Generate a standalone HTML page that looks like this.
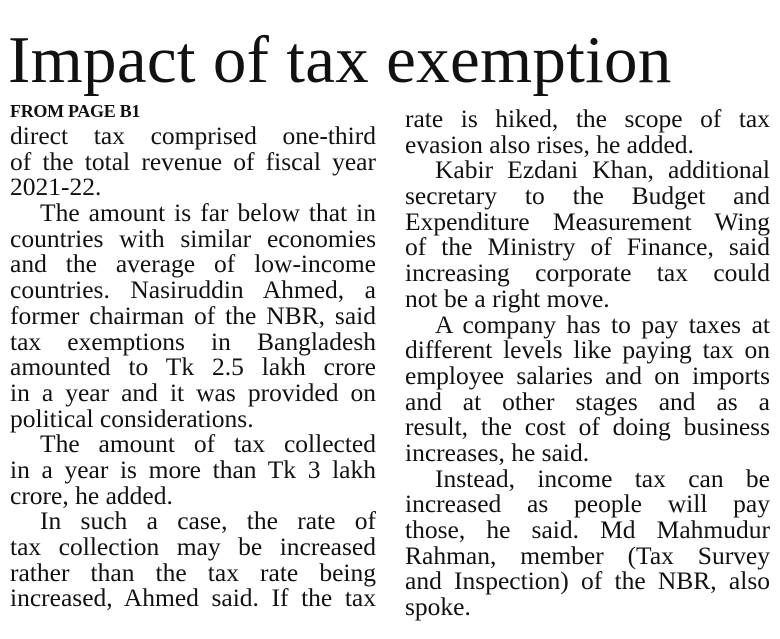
<!DOCTYPE html>
<html><head><meta charset="utf-8"><style>
html,body{margin:0;padding:0;background:#fff;}
body{width:780px;height:639px;position:relative;overflow:hidden;font-family:"Liberation Serif",serif;color:#111;}
.t{position:absolute;left:8px;top:22px;font-size:67px;line-height:76px;white-space:nowrap;letter-spacing:0.3px;}
.fp{position:absolute;left:10px;top:101px;font-size:18px;font-weight:bold;letter-spacing:-0.3px;}
.col{position:absolute;font-size:25.5px;line-height:25.7px;letter-spacing:0px;}
.col div{white-space:nowrap;height:25.7px;}
.col div.j{text-align:justify;text-align-last:justify;white-space:normal;}
.i{text-indent:30px;}
</style></head><body>
<div class="t">Impact of tax exemption</div>
<div class="fp">FROM PAGE B1</div>
<div class="col" style="left:10px;top:123px;width:366px;">
<div class="j">direct tax comprised one-third</div>
<div class="j">of the total revenue of fiscal year</div>
<div>2021-22.</div>
<div class="j i">The amount is far below that in</div>
<div class="j">countries with similar economies</div>
<div class="j">and the average of low-income</div>
<div class="j">countries. Nasiruddin Ahmed, a</div>
<div class="j">former chairman of the NBR, said</div>
<div class="j">tax exemptions in Bangladesh</div>
<div class="j">amounted to Tk 2.5 lakh crore</div>
<div class="j">in a year and it was provided on</div>
<div>political considerations.</div>
<div class="j i">The amount of tax collected</div>
<div class="j">in a year is more than Tk 3 lakh</div>
<div>crore, he added.</div>
<div class="j i">In such a case, the rate of</div>
<div class="j">tax collection may be increased</div>
<div class="j">rather than the tax rate being</div>
<div class="j">increased, Ahmed said. If the tax</div>
</div>
<div class="col" style="left:405px;top:106px;width:365px;">
<div class="j">rate is hiked, the scope of tax</div>
<div>evasion also rises, he added.</div>
<div class="j i">Kabir Ezdani Khan, additional</div>
<div class="j">secretary to the Budget and</div>
<div class="j">Expenditure Measurement Wing</div>
<div class="j">of the Ministry of Finance, said</div>
<div class="j">increasing corporate tax could</div>
<div>not be a right move.</div>
<div class="j i">A company has to pay taxes at</div>
<div class="j">different levels like paying tax on</div>
<div class="j">employee salaries and on imports</div>
<div class="j">and at other stages and as a</div>
<div class="j">result, the cost of doing business</div>
<div>increases, he said.</div>
<div class="j i">Instead, income tax can be</div>
<div class="j">increased as people will pay</div>
<div class="j">those, he said. Md Mahmudur</div>
<div class="j">Rahman, member (Tax Survey</div>
<div class="j">and Inspection) of the NBR, also</div>
<div>spoke.</div>
</div>
</body></html>
